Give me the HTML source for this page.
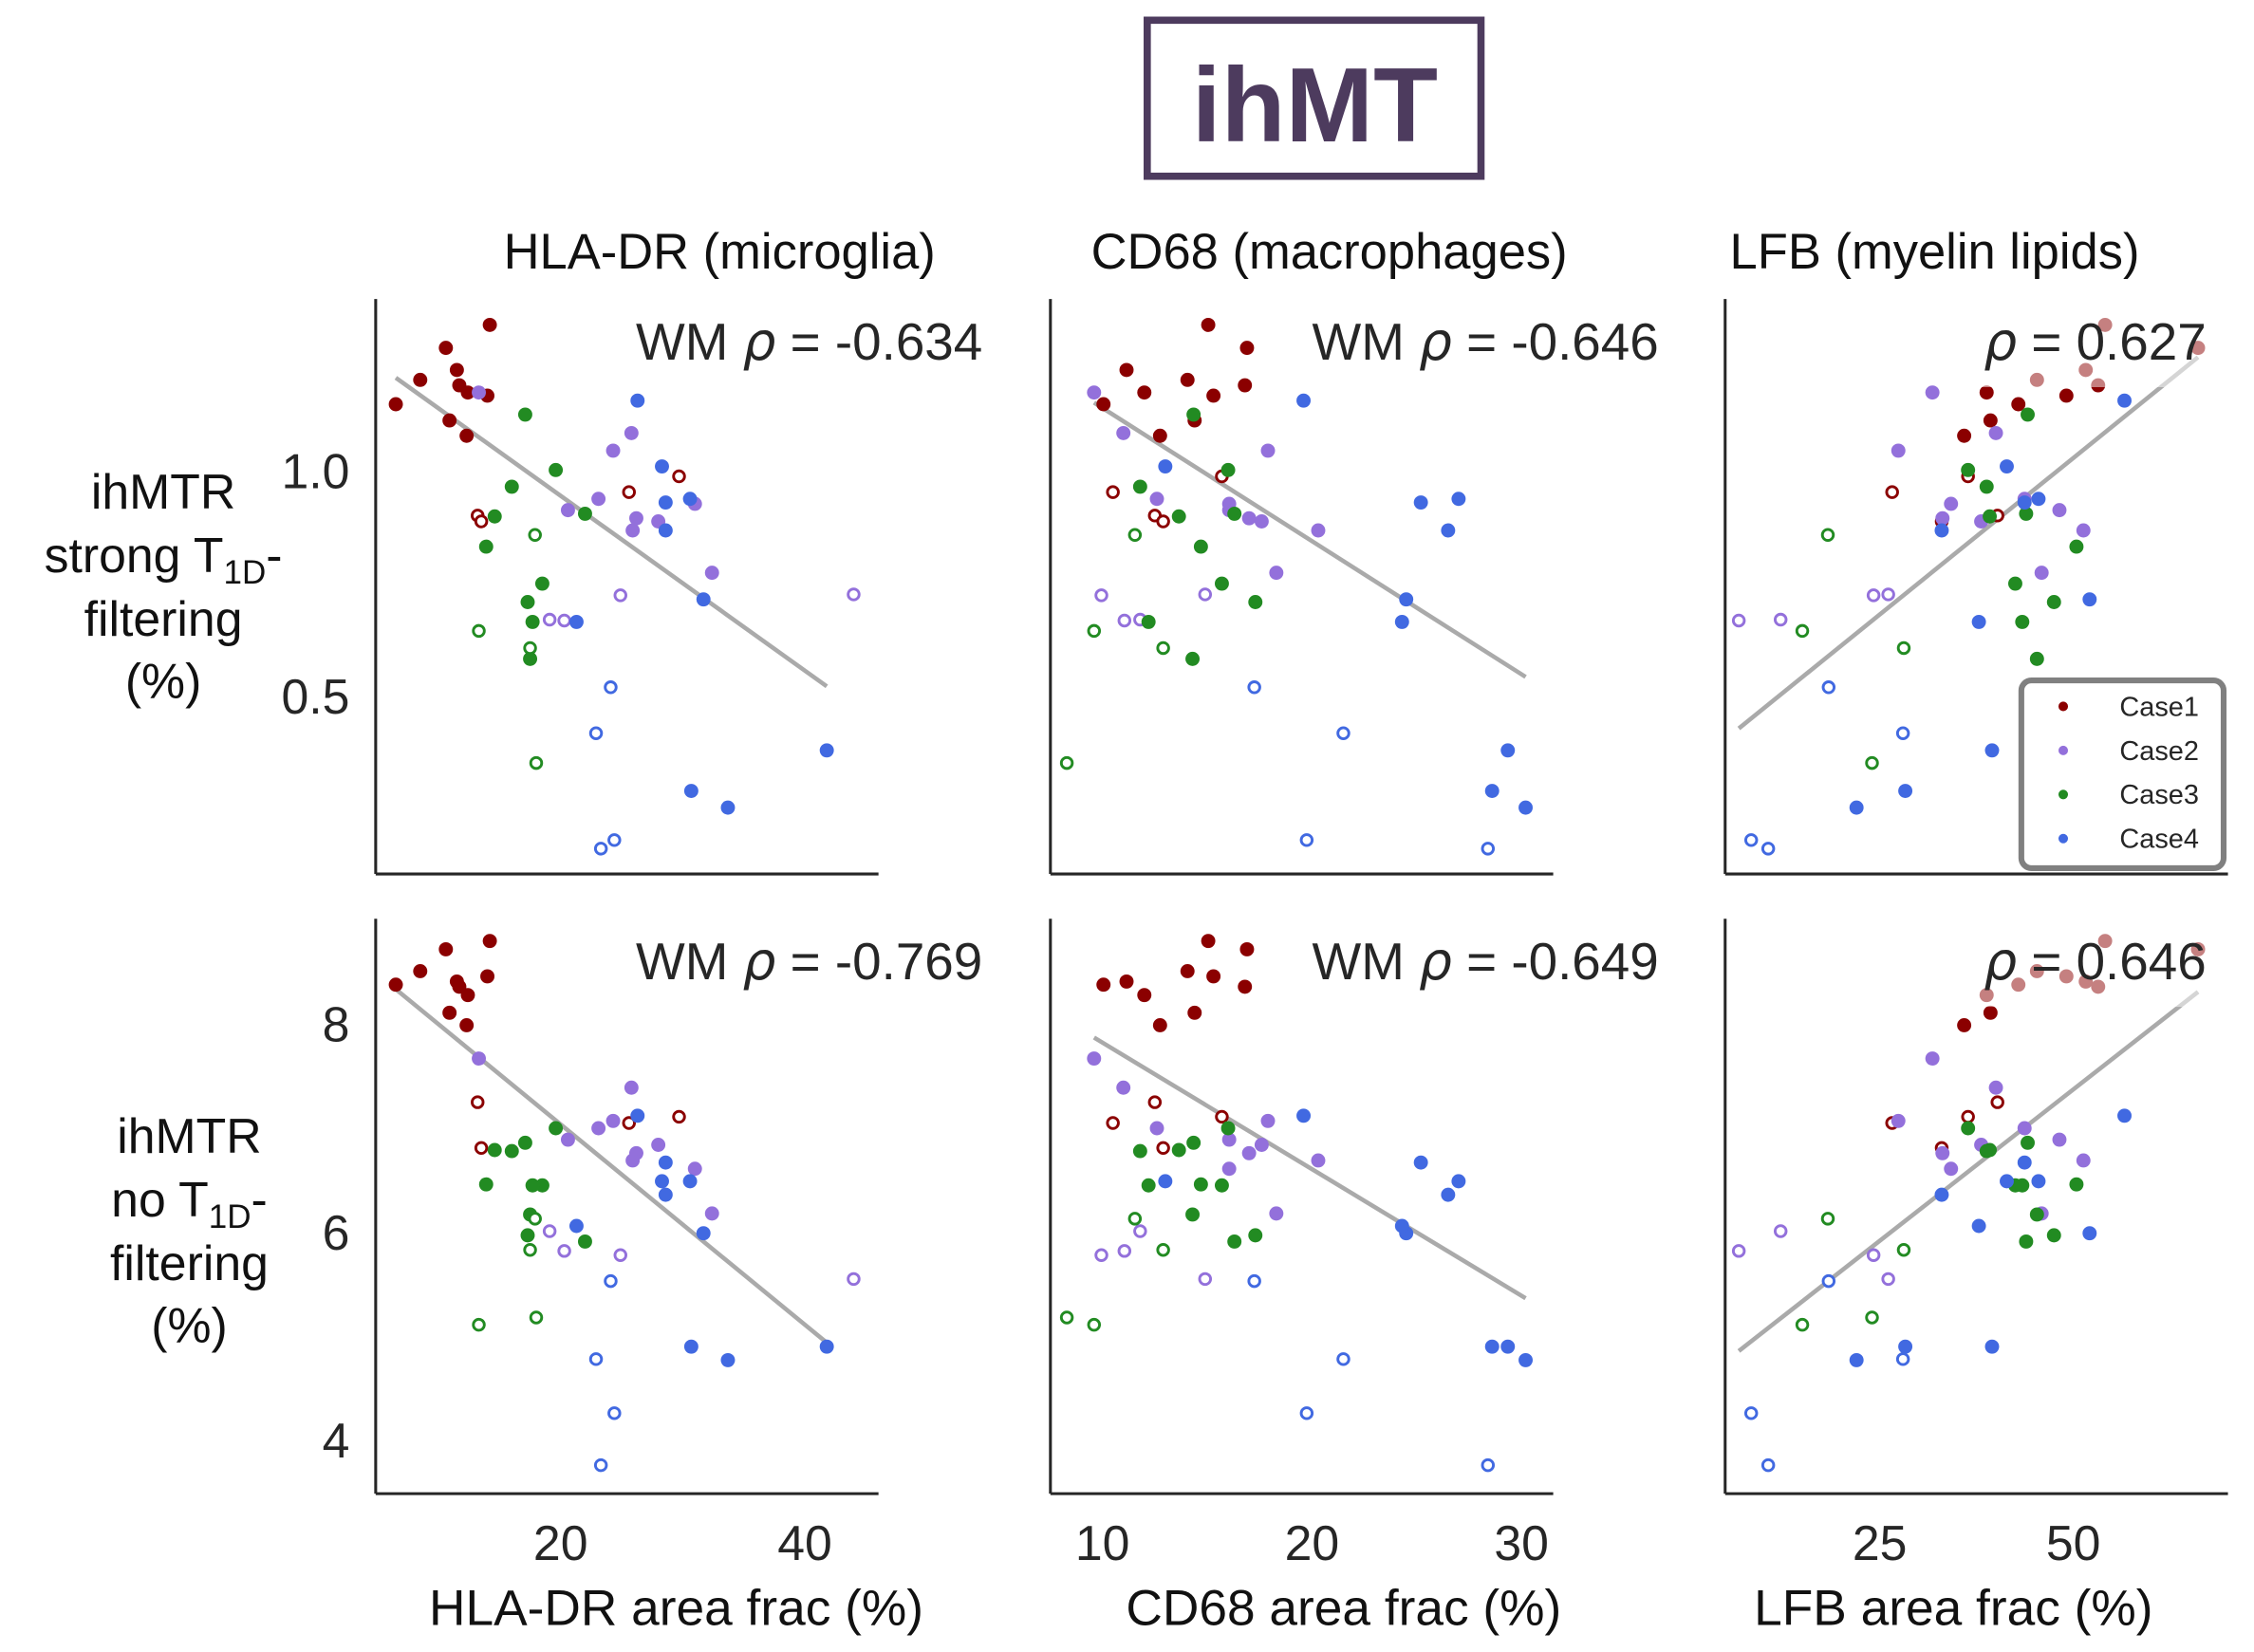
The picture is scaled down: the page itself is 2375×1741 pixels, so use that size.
<!DOCTYPE html>
<html><head><meta charset="utf-8"><style>
html,body{margin:0;padding:0;background:#fff;}
svg{display:block;font-family:"Liberation Sans",sans-serif;}
</style></head><body>
<svg id="fig" width="2375" height="1741" viewBox="0 0 1560 1143.6" xmlns="http://www.w3.org/2000/svg">
<rect x="0" y="0" width="1560" height="1143.6" fill="#fff"/>
<g>
<rect x="794" y="14" width="231" height="108" fill="none" stroke="#4d3b5e" stroke-width="5"/>
<text x="910" y="98" text-anchor="middle" font-size="73" font-weight="bold" fill="#4d3b5e">ihMT</text>
</g>
<text x="498" y="186" text-anchor="middle" font-size="34.5" fill="#111">HLA-DR (microglia)</text>
<text x="920" y="186" text-anchor="middle" font-size="34.5" fill="#111">CD68 (macrophages)</text>
<text x="1339" y="186" text-anchor="middle" font-size="34.5" fill="#111">LFB (myelin lipids)</text>
<g font-size="34" fill="#111" text-anchor="middle">
<text x="113" y="352">ihMTR</text>
<text x="113" y="396">strong T<tspan font-size="23" dy="8">1D</tspan><tspan dy="-8">-</tspan></text>
<text x="113" y="440">filtering</text>
<text x="113" y="483">(%)</text>
</g>
<g font-size="34" fill="#111" text-anchor="middle">
<text x="131" y="798">ihMTR</text>
<text x="131" y="842">no T<tspan font-size="23" dy="8">1D</tspan><tspan dy="-8">-</tspan></text>
<text x="131" y="886">filtering</text>
<text x="131" y="929">(%)</text>
</g>
<text x="468" y="1125" text-anchor="middle" font-size="35" fill="#111">HLA-DR area frac (%)</text>
<text x="930" y="1125" text-anchor="middle" font-size="35" fill="#111">CD68 area frac (%)</text>
<text x="1352" y="1125" text-anchor="middle" font-size="35" fill="#111">LFB area frac (%)</text>
<g id="panels"></g>
<g>
<rect x="1399" y="471" width="140" height="130" rx="7" fill="#fff" stroke="#808080" stroke-width="4"/>
<g id="legend-items"></g>
</g>
</svg>
<script>
const caseIds = [1,1,1,1,1,1,1,1,1,1, 1,1,1,1, 2,2,2,2,2,2,2,2,2,2, 2,2,2,2, 3,3,3,3,3,3,3,3,3,3, 3,3,3,3, 4,4,4,4,4,4,4,4,4,4, 4,4,4,4];
const isOpen = [0,0,0,0,0,0,0,0,0,0, 1,1,1,1, 0,0,0,0,0,0,0,0,0,0, 1,1,1,1, 0,0,0,0,0,0,0,0,0,0, 1,1,1,1, 0,0,0,0,0,0,0,0,0,0, 1,1,1,1];
const hlaFrac = [14.2,10.6,11.5,8.5,11.7,12.4,14.0,6.5,10.9,12.3, 13.2,13.5,25.6,29.7, 13.3,25.8,24.3,23.1,20.6,31.0,26.2,28.0,25.9,32.4, 19.1,20.3,24.9,44.0, 17.1,19.6,16.0,14.6,22.0,13.9,18.5,17.3,17.7,17.5, 17.9,13.3,17.5,18.0, 26.3,28.3,28.6,30.6,28.6,31.7,21.3,41.8,30.7,33.7, 24.1,22.9,24.4,23.3];
const cd68Frac = [15.05,16.9,11.15,14.06,16.8,12.0,15.3,10.05,14.4,12.75, 12.5,12.9,10.5,15.7, 9.6,11.0,17.9,12.6,16.05,16.05,17.0,17.6,20.3,18.3, 11.8,11.05,9.95,14.9, 14.35,16.0,11.8,13.65,16.3,14.7,15.7,17.3,12.2,14.3, 11.55,9.6,12.9,8.3, 19.6,13.0,25.2,27.0,26.5,24.5,24.3,29.35,28.6,30.2, 17.25,21.5,19.75,28.4];
const lfbFrac = [54.1,66.1,51.6,45.3,53.2,38.8,49.1,42.9,39.3,35.9, 40.2,33.0,26.6,36.4, 31.8,40.0,27.4,43.7,48.2,34.2,33.1,38.1,51.3,45.9, 12.2,6.8,24.2,26.1, 44.1,36.4,38.8,39.2,43.9,50.4,42.5,47.5,43.4,45.3, 18.3,15.0,28.1,24.0, 56.6,41.4,43.7,45.5,33.0,52.1,37.8,39.5,28.3,22.0, 18.4,28.0,8.4,10.6];
const ihmtrStrong = [1.324,1.273,1.224,1.202,1.190,1.174,1.167,1.148,1.112,1.078, 0.901,0.888,0.953,0.988, 1.174,1.084,1.045,0.938,0.913,0.927,0.895,0.888,0.868,0.774, 0.670,0.668,0.724,0.726, 1.125,1.002,0.965,0.899,0.905,0.832,0.750,0.709,0.665,0.583, 0.858,0.645,0.607,0.352, 1.156,1.010,0.930,0.938,0.868,0.715,0.665,0.380,0.290,0.253, 0.520,0.418,0.181,0.162];
const ihmtrNoFilt = [8.80,8.72,8.41,8.51,8.36,8.28,8.46,8.38,8.11,7.99, 7.25,6.81,7.05,7.11, 7.67,7.39,7.07,7.00,6.89,6.61,6.76,6.84,6.69,6.18, 6.01,5.82,5.78,5.55, 6.86,7.00,6.78,6.79,5.91,6.46,6.45,5.97,6.45,6.17, 6.13,5.11,5.83,5.18, 7.12,6.49,6.67,6.49,6.36,5.99,6.06,4.90,4.90,4.77, 5.53,4.78,4.26,3.76];
const rhoLabels = ["WM ρ = -0.634","WM ρ = -0.646","ρ = 0.627","WM ρ = -0.769","WM ρ = -0.649","ρ = 0.646"];
const xTicks1 = [20,40], xTicks2 = [10,20,30], xTicks3 = [25,50];
const yTicksRow1 = [0.5,1.0], yTickLabelsRow1 = ["0.5","1.0"];
const yTicksRow2 = [4,6,8], yTickLabelsRow2 = ["4","6","8"];
const caseNames = ["Case1","Case2","Case3","Case4"];

const NS="http://www.w3.org/2000/svg";
const colors={1:"#8b0000",2:"#9370db",3:"#228b22",4:"#4169e1"};
function mk(tag,attrs,parent){const e=document.createElementNS(NS,tag);for(const k in attrs)e.setAttribute(k,attrs[k]);if(parent)parent.appendChild(e);return e;}
function lin(d0,d1,p0,p1){return v=>p0+(v-d0)*(p1-p0)/(d1-d0);}
const cols=[
 {x0:260,x1:608,sx:lin(20,40,388,557),xs:hlaFrac,ticks:xTicks1,wm:true,name:"hla-dr"},
 {x0:727,x1:1075,sx:lin(10,30,763,1053),xs:cd68Frac,ticks:xTicks2,wm:true,name:"cd68"},
 {x0:1194,x1:1542,sx:lin(25,50,1301,1435),xs:lfbFrac,ticks:xTicks3,wm:false,name:"lfb"}];
const rows=[
 {y0:207,y1:605,sy:lin(0.5,1.0,482,326),ys:ihmtrStrong,ticks:yTicksRow1,labels:yTickLabelsRow1,name:"strong"},
 {y0:636,y1:1034,sy:lin(6,8,853,709),ys:ihmtrNoFilt,ticks:yTicksRow2,labels:yTickLabelsRow2,name:"nofilt"}];
const root=document.getElementById("panels");
rows.forEach((r,ri)=>{cols.forEach((c,ci)=>{
 const g=mk("g",{},root);
 
 
 const idx=caseIds.map((_,i)=>i).filter(i=>!c.wm||!isOpen[i]);
 const n=idx.length;let mx=0,my=0;idx.forEach(i=>{mx+=c.xs[i];my+=r.ys[i];});mx/=n;my/=n;
 let sxy=0,sxx=0;idx.forEach(i=>{sxy+=(c.xs[i]-mx)*(r.ys[i]-my);sxx+=(c.xs[i]-mx)**2;});
 const b=sxy/sxx,a=my-b*mx;const xmin=Math.min(...idx.map(i=>c.xs[i])),xmax=Math.max(...idx.map(i=>c.xs[i]));
 const ln=mk("line",{x1:c.sx(xmin),y1:r.sy(a+b*xmin),x2:c.sx(xmax),y2:r.sy(a+b*xmax),stroke:"#aaaaaa","stroke-width":3},g);
 
 
 caseIds.forEach((cs,i)=>{
  const px=c.sx(c.xs[i]),py=r.sy(r.ys[i]);
  let p;
  if(isOpen[i]) p=mk("circle",{cx:px,cy:py,r:3.8,fill:"#fff",stroke:colors[cs],"stroke-width":1.9},g);
  else p=mk("circle",{cx:px,cy:py,r:4.9,fill:colors[cs]},g);
  
  
 });
 const lab=rhoLabels[ri*3+ci];const right=[680,1148,1527][ci];const base=r.y0+42;
 const wm=lab.startsWith("WM");
 if(!wm){const bg=mk("rect",{x:right-168,y:r.y0+8,width:176,height:53,fill:"#fff","fill-opacity":0.5},g);
  }
 const t=mk("text",{x:right,y:base,"text-anchor":"end","font-size":36,fill:"#262626"},g);
 
 
 const parts=lab.split("ρ");
 if(parts[0]){const s=mk("tspan",{},t);s.textContent=parts[0];}
 const rho=mk("tspan",{"font-style":"italic","font-family":"DejaVu Sans, sans-serif"},t);rho.textContent="ρ";
 const s2=mk("tspan",{},t);s2.textContent=parts[1];
 const ya=mk("line",{x1:c.x0,y1:r.y0,x2:c.x0,y2:r.y1,stroke:"#262626","stroke-width":2},g);
 
 const xa=mk("line",{x1:c.x0,y1:r.y1,x2:c.x1,y2:r.y1,stroke:"#262626","stroke-width":2},g);
 
 if(ci===0){r.ticks.forEach((v,k)=>{const tt=mk("text",{x:242,y:r.sy(v)+12,"text-anchor":"end","font-size":34,fill:"#262626"},g);
  tt.textContent=r.labels[k];});}
 if(ri===1){c.ticks.forEach(v=>{const tt=mk("text",{x:c.sx(v),y:1080,"text-anchor":"middle","font-size":34,fill:"#262626"},g);
  tt.textContent=String(v);});}
});});
const lg=document.getElementById("legend-items");
caseNames.forEach((nm,k)=>{
 const y=489+k*30.5;
 const d=mk("circle",{cx:1428,cy:y,r:3.3,fill:colors[k+1]},lg);
 
 const t=mk("text",{x:1467,y:y+6.5,"font-size":19,fill:"#262626"},lg);
 t.textContent=nm;
});
</script>
</body></html>
